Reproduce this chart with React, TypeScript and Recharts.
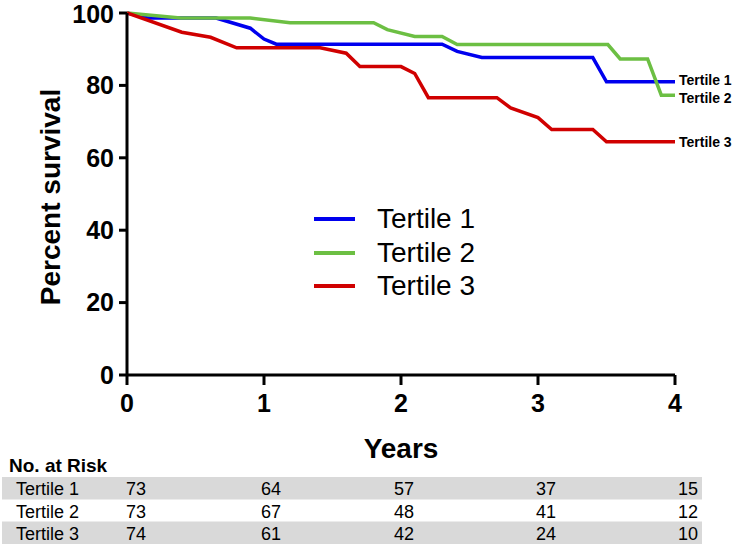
import React from 'react';
import { LineChart, Line, XAxis, YAxis, Legend } from 'recharts';

const FONT = "'Liberation Sans', Arial, Helvetica, sans-serif";

// Kaplan-Meier curves (years, percent survival)
const tertile1 = [
  { t: 0, s: 100 }, { t: 0.15, s: 98.6 }, { t: 0.65, s: 98.6 }, { t: 0.9, s: 95.8 },
  { t: 1.0, s: 92.8 }, { t: 1.09, s: 91.4 }, { t: 2.3, s: 91.4 }, { t: 2.41, s: 89.4 },
  { t: 2.59, s: 87.7 }, { t: 3.4, s: 87.7 }, { t: 3.5, s: 81.0 }, { t: 4.0, s: 81.0 },
];
const tertile2 = [
  { t: 0, s: 100 }, { t: 0.39, s: 98.6 }, { t: 0.9, s: 98.6 }, { t: 1.19, s: 97.3 },
  { t: 1.8, s: 97.3 }, { t: 1.9, s: 95.4 }, { t: 2.1, s: 93.5 }, { t: 2.3, s: 93.5 },
  { t: 2.41, s: 91.3 }, { t: 3.51, s: 91.3 }, { t: 3.6, s: 87.3 }, { t: 3.8, s: 87.3 },
  { t: 3.9, s: 77.3 }, { t: 4.0, s: 77.3 },
];
const tertile3 = [
  { t: 0, s: 100 }, { t: 0.4, s: 94.7 }, { t: 0.61, s: 93.3 }, { t: 0.8, s: 90.4 },
  { t: 1.41, s: 90.4 }, { t: 1.6, s: 88.9 }, { t: 1.7, s: 85.2 }, { t: 2.0, s: 85.2 },
  { t: 2.1, s: 83.3 }, { t: 2.2, s: 76.6 }, { t: 2.7, s: 76.6 }, { t: 2.8, s: 73.8 },
  { t: 3.0, s: 71.1 }, { t: 3.1, s: 67.8 }, { t: 3.4, s: 67.8 }, { t: 3.5, s: 64.4 },
  { t: 4.0, s: 64.4 },
];

const xTicks = [0, 1, 2, 3, 4];
const yTicks = [0, 20, 40, 60, 80, 100];

const seriesNames = ['Tertile 1', 'Tertile 2', 'Tertile 3'];
const riskTertile1 = [73, 64, 57, 37, 15];
const riskTertile2 = [73, 67, 48, 41, 12];
const riskTertile3 = [74, 61, 42, 24, 10];

const COLORS = ['#0000ee', '#6cbf43', '#d00000'];

const makeEndLabel = (len: number, name: string, dy: number) => (p: any) => {
  if (p.index !== len - 1) return <g key={`e${p.index}`} />;
  return (
    <text
      key={`e${p.index}`}
      x={p.x + 4}
      y={p.y + dy}
      dominantBaseline="central"
      fontFamily={FONT}
      fontSize={14}
      fontWeight="bold"
      fill="#000"
    >
      {name}
    </text>
  );
};

const YTitle = (props: any) => {
  const vb = props.viewBox || { x: 0, y: 13, width: 60, height: 362 };
  const cy = vb.y + vb.height / 2 + 3;
  return (
    <text
      x={50}
      y={cy}
      transform={`rotate(-90 50 ${cy})`}
      textAnchor="middle"
      dominantBaseline="central"
      fontFamily={FONT}
      fontSize={28}
      fontWeight="bold"
      fill="#000"
    >
      Percent survival
    </text>
  );
};

const XTitle = (props: any) => {
  const vb = props.viewBox || { x: 127, y: 375, width: 548, height: 30 };
  const cx = vb.x + vb.width / 2;
  return (
    <text
      x={cx}
      y={448}
      textAnchor="middle"
      dominantBaseline="central"
      fontFamily={FONT}
      fontSize={28}
      fontWeight="bold"
      fill="#000"
    >
      Years
    </text>
  );
};

const LegendContent = (props: any) => {
  const payload = props.payload || [];
  return (
    <div style={{ fontFamily: FONT }}>
      {payload.map((item: any) => (
        <div key={item.value} style={{ display: 'flex', alignItems: 'center', height: 33.7 }}>
          <div style={{ width: 41, height: 4, background: item.color }} />
          <div style={{ marginLeft: 22, fontSize: 28, color: '#000', lineHeight: '33.7px', whiteSpace: 'nowrap' }}>
            {item.value}
          </div>
        </div>
      ))}
    </div>
  );
};

const RiskTable = () => {
  const rows = [riskTertile1, riskTertile2, riskTertile3];
  const colX = [136, 271, 404, 546, 688];
  const rowTop = [477, 499.5, 521.5];
  const rowH = 22.5;
  return (
    <svg
      width={737}
      height={550}
      style={{ position: 'absolute', left: 0, top: 0, pointerEvents: 'none' }}
    >
      <text x={9} y={465} dominantBaseline="central" fontFamily={FONT} fontSize={19} fontWeight="bold" fill="#000">
        No. at Risk
      </text>
      {rows.map((vals, r) => (
        <g key={r}>
          {r % 2 === 0 && <rect x={2} y={rowTop[r]} width={700} height={rowH} fill="#d9d9d9" />}
          <text x={16} y={rowTop[r] + rowH / 2 + 1} dominantBaseline="central" fontFamily={FONT} fontSize={18} fill="#000">
            {seriesNames[r]}
          </text>
          {vals.map((v, c) => (
            <text
              key={c}
              x={colX[c]}
              y={rowTop[r] + rowH / 2 + 1}
              textAnchor="middle"
              dominantBaseline="central"
              fontFamily={FONT}
              fontSize={18}
              fill="#000"
            >
              {v}
            </text>
          ))}
        </g>
      ))}
    </svg>
  );
};

export default function App() {
  const tickStyle = { fill: '#000', fontSize: 25, fontWeight: 'bold', fontFamily: FONT };
  const axisStroke = { stroke: '#000', strokeWidth: 3 };
  const series = [tertile1, tertile2, tertile3];
  const endDy = [-2, 3, 0];
  return (
    <div style={{ position: 'absolute', left: 0, top: 0, width: 737, height: 550, background: '#fff' }}>
      <LineChart width={737} height={550} margin={{ top: 13, right: 62, bottom: 145, left: 67 }}>
        <XAxis
          type="number"
          dataKey="t"
          domain={[0, 4]}
          ticks={xTicks}
          allowDataOverflow
          height={30}
          axisLine={axisStroke}
          tickLine={axisStroke}
          tickSize={10}
          tickMargin={9}
          tick={tickStyle}
          label={<XTitle />}
        />
        <YAxis
          type="number"
          domain={[0, 100]}
          ticks={yTicks}
          width={60}
          axisLine={axisStroke}
          tickLine={axisStroke}
          tickSize={8}
          tickMargin={5}
          tick={tickStyle}
          label={<YTitle />}
        />
        {series.map((d, i) => (
          <Line
            key={seriesNames[i]}
            data={d}
            dataKey="s"
            name={seriesNames[i]}
            type="linear"
            stroke={COLORS[i]}
            strokeWidth={3.5}
            dot={false}
            activeDot={false}
            isAnimationActive={false}
            label={makeEndLabel(d.length, seriesNames[i], endDy[i])}
          />
        ))}
        <Legend
          layout="vertical"
          align="center"
          verticalAlign="middle"
          content={<LegendContent />}
          wrapperStyle={{ position: 'absolute', left: 314, top: 202, width: 240, margin: 0 }}
        />
      </LineChart>
      <RiskTable />
    </div>
  );
}
